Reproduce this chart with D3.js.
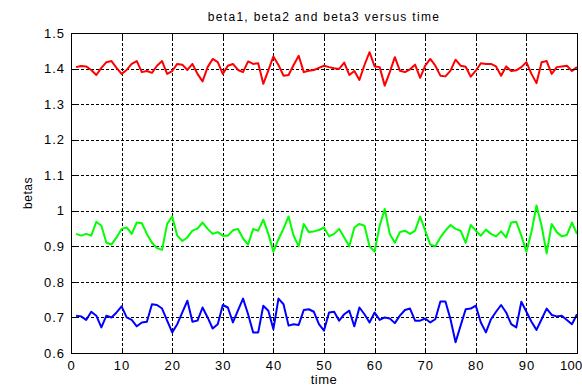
<!DOCTYPE html>
<html>
<head>
<meta charset="utf-8">
<script src="https://cdn.jsdelivr.net/npm/d3@7/dist/d3.min.js"></script>
<style>
  html, body { margin: 0; padding: 0; background: #fff; }
  svg { display: block; }
  .tick text { font-family: "Liberation Sans", Arial, sans-serif; font-size: 13px; letter-spacing: 1px; fill: #000; }
  .lbl { font-family: "Liberation Sans", Arial, sans-serif; fill: #000; }
</style>
</head>
<body>
<svg id="chart" width="582" height="387"></svg>
<script>
// sample index
const time = [1,2,3,4,5,6,7,8,9,10,11,12,13,14,15,16,17,18,19,20,
  21,22,23,24,25,26,27,28,29,30,31,32,33,34,35,36,37,38,39,40,
  41,42,43,44,45,46,47,48,49,50,51,52,53,54,55,56,57,58,59,60,
  61,62,63,64,65,66,67,68,69,70,71,72,73,74,75,76,77,78,79,80,
  81,82,83,84,85,86,87,88,89,90,91,92,93,94,95,96,97,98,99,100];

const beta1 = [1.404,1.407,1.406,1.396,1.382,1.402,1.418,1.421,1.402,1.385,
  1.396,1.413,1.421,1.390,1.393,1.388,1.408,1.421,1.385,1.393,
  1.413,1.411,1.396,1.413,1.385,1.364,1.404,1.427,1.418,1.385,
  1.408,1.413,1.396,1.390,1.420,1.413,1.415,1.357,1.395,1.434,
  1.410,1.380,1.382,1.410,1.436,1.390,1.394,1.396,1.402,1.408,
  1.404,1.401,1.399,1.417,1.382,1.393,1.368,1.410,1.446,1.406,
  1.404,1.352,1.390,1.432,1.394,1.390,1.398,1.411,1.374,1.408,
  1.427,1.408,1.380,1.378,1.394,1.425,1.408,1.405,1.377,1.394,
  1.415,1.413,1.413,1.406,1.380,1.406,1.393,1.395,1.404,1.418,
  1.385,1.359,1.418,1.421,1.385,1.404,1.406,1.408,1.393,1.404];

const beta2 = [0.935,0.930,0.935,0.930,0.969,0.958,0.910,0.905,0.925,0.949,
  0.953,0.935,0.967,0.965,0.935,0.910,0.895,0.890,0.963,0.984,
  0.930,0.915,0.925,0.944,0.950,0.967,0.949,0.935,0.940,0.930,
  0.930,0.945,0.949,0.922,0.905,0.949,0.944,0.975,0.935,0.885,
  0.920,0.950,0.984,0.930,0.900,0.963,0.940,0.942,0.946,0.953,
  0.928,0.935,0.949,0.925,0.900,0.953,0.963,0.958,0.900,0.885,
  0.958,1.005,0.935,0.910,0.940,0.944,0.935,0.944,0.984,0.944,
  0.905,0.900,0.925,0.944,0.960,0.949,0.944,0.910,0.960,0.944,
  0.930,0.947,0.935,0.928,0.942,0.925,0.967,0.969,0.930,0.885,
  0.940,1.015,0.958,0.880,0.963,0.940,0.928,0.932,0.967,0.935];

const beta3 = [0.705,0.703,0.693,0.716,0.705,0.672,0.705,0.700,0.714,0.731,
  0.700,0.693,0.675,0.686,0.688,0.737,0.735,0.725,0.691,0.658,
  0.681,0.714,0.747,0.688,0.691,0.728,0.700,0.669,0.681,0.735,
  0.728,0.686,0.720,0.753,0.709,0.658,0.658,0.733,0.719,0.667,
  0.753,0.737,0.677,0.681,0.679,0.721,0.723,0.716,0.681,0.663,
  0.714,0.716,0.691,0.709,0.719,0.675,0.728,0.709,0.686,0.714,
  0.693,0.700,0.697,0.684,0.705,0.721,0.725,0.691,0.691,0.697,
  0.686,0.695,0.745,0.745,0.695,0.630,0.677,0.723,0.725,0.733,
  0.686,0.658,0.695,0.716,0.735,0.714,0.681,0.672,0.744,0.716,
  0.688,0.665,0.695,0.725,0.707,0.703,0.705,0.693,0.681,0.709];

const xTicks = [0,10,20,30,40,50,60,70,80,90,100];
const yTicks = [0.6,0.7,0.8,0.9,1.0,1.1,1.2,1.3,1.4,1.5];
const yTickLabels = ["0.6","0.7","0.8","0.9","1","1.1","1.2","1.3","1.4","1.5"];

const series = [
  { values: beta1, color: "#ff0000" },
  { values: beta2, color: "#00ff00" },
  { values: beta3, color: "#0000ff" }
];

const svg = d3.select("#chart");
const L = 71, R = 577, T = 33, B = 353;
const W = R - L, H = B - T;

const x = d3.scaleLinear().domain([0, 100]).range([L, R]);
const y = d3.scaleLinear().domain([0.6, 1.5]).range([B, T]);

// dotted grid
const grid = svg.append("g").attr("stroke", "#000").attr("stroke-width", 1)
  .attr("stroke-dasharray", "3,2").attr("shape-rendering", "crispEdges");
grid.selectAll("line.v").data(xTicks.slice(1, -1)).join("line")
  .attr("x1", d => Math.round(x(d)) + 0.5).attr("x2", d => Math.round(x(d)) + 0.5)
  .attr("y1", T).attr("y2", B);
grid.selectAll("line.h").data(yTicks.slice(1, -1)).join("line")
  .attr("y1", d => Math.round(y(d)) + 0.5).attr("y2", d => Math.round(y(d)) + 0.5)
  .attr("x1", L).attr("x2", R);

// data lines
const line = d3.line().x((d, i) => x(time[i])).y(d => y(d));
svg.append("g").selectAll("path").data(series).join("path")
  .attr("fill", "none")
  .attr("stroke", d => d.color)
  .attr("stroke-width", 2)
  .attr("stroke-linejoin", "round")
  .attr("d", d => line(d.values));

// axes with inward ticks
const tickLen = 5;
const xAxis = svg.append("g").attr("transform", `translate(0,${B})`)
  .call(d3.axisBottom(x).tickValues(xTicks).tickSizeInner(-tickLen).tickSizeOuter(0).tickPadding(8));
const xTop = svg.append("g").attr("transform", `translate(0,${T})`)
  .call(d3.axisTop(x).tickValues(xTicks).tickSizeInner(-tickLen).tickSizeOuter(0).tickFormat(""));
const yAxis = svg.append("g").attr("transform", `translate(${L},0)`)
  .call(d3.axisLeft(y).tickValues(yTicks).tickSizeInner(-tickLen).tickSizeOuter(0).tickPadding(6)
    .tickFormat((d, i) => yTickLabels[i]));
const yRight = svg.append("g").attr("transform", `translate(${R},0)`)
  .call(d3.axisRight(y).tickValues(yTicks).tickSizeInner(-tickLen).tickSizeOuter(0).tickFormat(""));

[xAxis, xTop, yAxis, yRight].forEach(g => {
  g.select(".domain").remove();
  g.selectAll(".tick line").attr("stroke", "#000").attr("shape-rendering", "crispEdges");
});
xAxis.selectAll(".tick text").attr("dy", "0.71em");
// last label sits against the window edge
xAxis.selectAll(".tick text").filter(d => d === 100)
  .attr("text-anchor", "end").attr("x", 582 - R).style("letter-spacing", "0.3px");

// box
svg.append("rect").attr("x", L + 0.5).attr("y", T + 0.5).attr("width", W).attr("height", H)
  .attr("fill", "none").attr("stroke", "#000").attr("stroke-width", 1)
  .attr("shape-rendering", "crispEdges");

// labels
svg.append("text").attr("class", "lbl").attr("x", (L + R) / 2).attr("y", 21)
  .attr("text-anchor", "middle").style("font-size", "12px").style("letter-spacing", "1.3px")
  .text("beta1, beta2 and beta3 versus time");
svg.append("text").attr("class", "lbl").attr("x", (L + R) / 2).attr("y", 384)
  .attr("text-anchor", "middle").style("font-size", "13px").style("letter-spacing", "0.5px")
  .text("time");
svg.append("text").attr("class", "lbl")
  .attr("transform", `translate(32,${(T + B) / 2}) rotate(-90)`)
  .attr("text-anchor", "middle").style("font-size", "12px").style("letter-spacing", "0.5px")
  .text("betas");
</script>
</body>
</html>
